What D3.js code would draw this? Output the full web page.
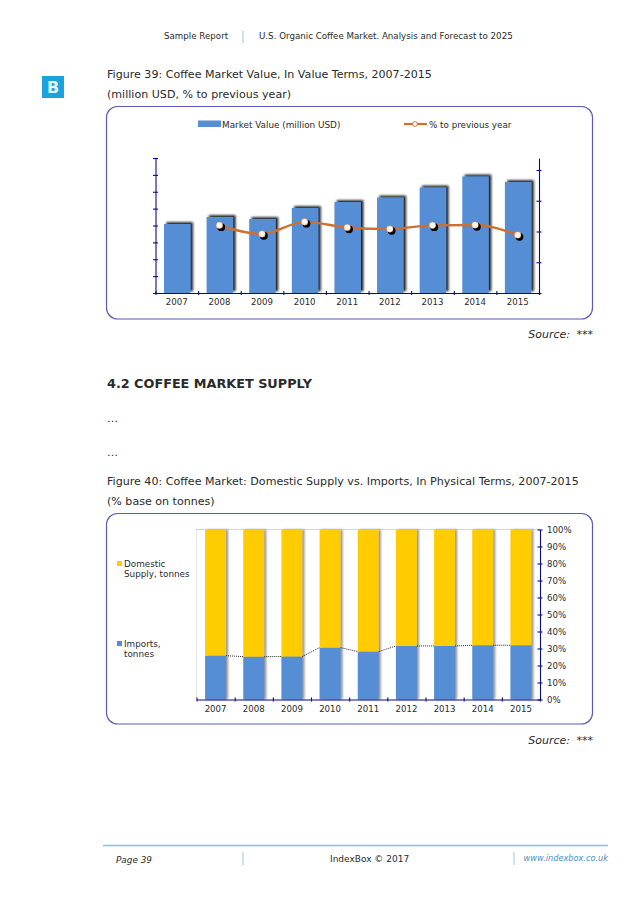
<!DOCTYPE html>
<html><head><meta charset="utf-8">
<script src="https://cdn.jsdelivr.net/npm/d3@7/dist/d3.min.js"></script>
<style>html,body{margin:0;padding:0;background:#fff}svg{display:block}text{font-family:"DejaVu Sans",Verdana,sans-serif;fill:#2a2a2a}</style>
</head><body><svg id="c" width="638" height="903"></svg>
<script>
const years = [2007,2008,2009,2010,2011,2012,2013,2014,2015];
const marketValue = [2044,2252,2193,2519,2696,2830,3126,3452,3289];
const pctPrevious = [null,110,96,115.6,106.5,104,110,110.6,94.3];
const imports = [25.8,25.2,25.3,30.5,28.2,31.5,31.5,31.9,31.9];
const domestic = [74.2,74.8,74.7,69.5,71.8,68.5,68.5,68.1,68.1];
const leftTicks = [0,500,1000,1500,2000,2500,3000,3500,4000];
const rightTicks = [0,50,100,150,200];
const pctTicks = [0,10,20,30,40,50,60,70,80,90,100];

const NAVY="#0a0a8c", BLUE="#558ed5", ORANGE="#cf6f30", YEL="#ffcc00", FRAME="#5a5ab8";
const svg=d3.select("#c");
const defs=svg.append("defs");
const f1=defs.append("filter").attr("id","sh1").attr("x","-20%").attr("y","-10%").attr("width","150%").attr("height","120%");
f1.append("feDropShadow").attr("dx",2.4).attr("dy",-1.8).attr("stdDeviation",1).attr("flood-color","#111").attr("flood-opacity",0.95);
const f2=defs.append("filter").attr("id","sh2").attr("x","-20%").attr("y","-10%").attr("width","150%").attr("height","120%");
f2.append("feDropShadow").attr("dx",2).attr("dy",0).attr("stdDeviation",0.9).attr("flood-color","#777").attr("flood-opacity",0.8);

function txt(x,y,s,size,o={}){
  const t=svg.append("text").attr("x",x).attr("y",y).attr("font-size",size).text(s);
  if(o.anchor)t.attr("text-anchor",o.anchor);
  if(o.bold)t.attr("font-weight","bold");
  if(o.italic)t.attr("font-style","italic");
  if(o.fill)t.style("fill",o.fill);
  if(o.ws)t.style("word-spacing",o.ws+"px");
  return t;
}
function sep(x,y1,y2){svg.append("line").attr("x1",x).attr("x2",x).attr("y1",y1).attr("y2",y2).attr("stroke","#bcdcec").attr("stroke-width",1.6);}

// page furniture
txt(164,39,"Sample Report",8.7);
sep(243,31,43);
txt(259,39,"U.S. Organic Coffee Market. Analysis and Forecast to 2025",8.7);
svg.append("rect").attr("x",42).attr("y",76).attr("width",22).attr("height",22).attr("fill","#1ba3dc");
txt(53,93,"B",16,{anchor:"middle",bold:true,fill:"#e8f6fc"});
txt(107,78,"Figure 39: Coffee Market Value, In Value Terms, 2007-2015",11.08);
txt(107,98,"(million USD, % to previous year)",11.08);
txt(593,338,"Source: ***",11,{anchor:"end",italic:true,ws:3});
txt(107,388,"4.2 COFFEE MARKET SUPPLY",12.8,{bold:true});
txt(107,422,"…",11);
txt(107,456,"…",11);
txt(107,485,"Figure 40: Coffee Market: Domestic Supply vs. Imports, In Physical Terms, 2007-2015",11.08);
txt(107,505,"(% base on tonnes)",11.08);
txt(593,744,"Source: ***",11,{anchor:"end",italic:true,ws:3});
svg.append("line").attr("x1",103).attr("x2",608).attr("y1",845.5).attr("y2",845.5).attr("stroke","#7cc4de").attr("stroke-width",1.4);
sep(243,852,865);sep(514,852,865);
txt(116,863,"Page 39",8.9,{italic:true});
txt(330,862,"IndexBox © 2017",9);
txt(608,861,"www.indexbox.co.uk",8.2,{anchor:"end",italic:true,fill:"#4a90c0"});

function frame(y,h){svg.append("rect").attr("x",106.5).attr("y",y).attr("width",486).attr("height",h).attr("rx",11).attr("fill","#fff").attr("stroke",FRAME).attr("stroke-width",1.2);}
function styleAxis(g){g.selectAll("path").attr("stroke",NAVY).attr("stroke-width",1.1);g.selectAll("line").attr("stroke",NAVY).attr("stroke-width",1.1);}
function crossTicks(g,h){g.selectAll(".tick line").attr("x1",-h).attr("x2",h).attr("y1",0).attr("y2",0);}
function crossTicksV(g,h){g.selectAll(".tick line").attr("y1",-h).attr("y2",h).attr("x1",0).attr("x2",0);}
function catAxes(x0,x1,yy,labelY){
  const band=d3.scaleBand().domain(years).range([x0,x1]);
  const edges=d3.scaleLinear().domain([0,years.length]).range([x0,x1]);
  const e=svg.append("g").attr("transform",`translate(0,${yy})`).call(d3.axisBottom(edges).tickValues(d3.range(0,years.length+1)).tickFormat("").tickSizeOuter(0));
  styleAxis(e);crossTicksV(e,2);
  const l=svg.append("g").attr("transform",`translate(0,${labelY})`).call(d3.axisBottom(band).tickSize(0));
  l.select("path").remove();
  l.selectAll("text").attr("font-size",8.6).attr("dy",0).attr("y",8).style("font-family",'"DejaVu Sans"').style("fill","#2a2a2a");
  return band;
}

// Figure 39
frame(106.5,212.5);
{
  const c=d3.scaleBand().domain(years).range([155.5,539]);
  const yL=d3.scaleLinear().domain([0,4000]).range([293,158]);
  const yR=d3.scaleLinear().domain([0,219.5]).range([293,158]);
  svg.append("g").selectAll("rect").data(years).join("rect")
    .attr("x",d=>c(d)+8.5).attr("width",26.5)
    .attr("y",(d,i)=>yL(marketValue[i])).attr("height",(d,i)=>293-yL(marketValue[i]))
    .attr("fill",BLUE).attr("filter","url(#sh1)");
  const a=svg.append("g").attr("transform","translate(155.5,0)").call(d3.axisLeft(yL).tickValues(leftTicks).tickFormat("").tickSizeOuter(0));
  styleAxis(a);crossTicks(a,2.5);
  const b=svg.append("g").attr("transform","translate(539,0)").call(d3.axisRight(yR).tickValues(rightTicks).tickFormat("").tickSizeOuter(0));
  styleAxis(b);crossTicks(b,2.5);
  catAxes(155.5,539,293,297);
  const pts=years.map((d,i)=>({x:c(d)+c.bandwidth()/2,y:yR(pctPrevious[i]),v:pctPrevious[i]})).filter(p=>p.v!=null);
  const line=d3.line().x(p=>p.x).y(p=>p.y).curve(d3.curveMonotoneX);
  svg.append("path").attr("d",line(pts)).attr("fill","none").attr("stroke",ORANGE).attr("stroke-width",2.4);
  svg.append("g").selectAll("circle").data(pts).join("circle").attr("cx",p=>p.x+1.8).attr("cy",p=>p.y+1.8).attr("r",3.9).attr("fill","#000");
  svg.append("g").selectAll("circle").data(pts).join("circle").attr("cx",p=>p.x).attr("cy",p=>p.y).attr("r",3.3).attr("fill","#fff6ea").attr("stroke",ORANGE).attr("stroke-width",0.4);
  // legend
  svg.append("rect").attr("x",198).attr("y",120.5).attr("width",23).attr("height",6.5).attr("fill",BLUE);
  txt(222,127.5,"Market Value (million USD)",8.85);
  svg.append("line").attr("x1",404).attr("x2",427).attr("y1",124).attr("y2",124).attr("stroke",ORANGE).attr("stroke-width",2.2);
  svg.append("circle").attr("cx",415).attr("cy",124).attr("r",2.4).attr("fill","#fff").attr("stroke",ORANGE).attr("stroke-width",0.9);
  txt(429,127.5,"% to previous year",8.75);
}

// Figure 40
frame(513.5,210.5);
{
  const x0=196.5,x1=540,top=529.5,bot=699.5;
  const c=d3.scaleBand().domain(years).range([x0,x1]);
  const y=d3.scaleLinear().domain([0,100]).range([bot,top]);
  const bw=21, off=(c.bandwidth()-bw)/2;
  svg.append("line").attr("x1",x0).attr("x2",x0).attr("y1",top).attr("y2",bot).attr("stroke","#e6e6e6");
  svg.append("line").attr("x1",x0).attr("x2",x1).attr("y1",top).attr("y2",top).attr("stroke","#999").attr("stroke-width",0.8).attr("stroke-dasharray","1 1");
  const bars=svg.append("g").attr("filter","url(#sh2)");
  bars.selectAll("rect.i").data(years).join("rect").attr("class","i")
    .attr("x",d=>c(d)+off).attr("width",bw)
    .attr("y",(d,i)=>y(imports[i])).attr("height",(d,i)=>bot-y(imports[i])).attr("fill",BLUE);
  bars.selectAll("rect.d").data(years).join("rect").attr("class","d")
    .attr("x",d=>c(d)+off).attr("width",bw)
    .attr("y",(d,i)=>y(imports[i]+domestic[i])).attr("height",(d,i)=>y(imports[i])-y(imports[i]+domestic[i])).attr("fill",YEL);
  svg.append("g").selectAll("line").data(years.slice(0,-1)).join("line")
    .attr("x1",d=>c(d)+off+bw).attr("x2",d=>c(d)+off+c.bandwidth())
    .attr("y1",(d,i)=>y(imports[i])).attr("y2",(d,i)=>y(imports[i+1]))
    .attr("stroke","#111").attr("stroke-width",0.9).attr("stroke-dasharray","1 1");
  const a=svg.append("g").attr("transform",`translate(${x1},0)`).call(d3.axisRight(y).tickValues(pctTicks).tickFormat(d=>d+"%").tickSizeOuter(0));
  styleAxis(a);crossTicks(a,2.5);
  a.selectAll("text").attr("x",7).attr("font-size",8.6).style("font-family",'"DejaVu Sans"').style("fill","#2a2a2a");
  catAxes(x0,x1,bot,704);
  svg.append("rect").attr("x",117).attr("y",561).attr("width",5).attr("height",5).attr("fill",YEL);
  txt(124,567,"Domestic",8.8);txt(124,577,"Supply, tonnes",8.8);
  svg.append("rect").attr("x",117).attr("y",641).attr("width",5).attr("height",5).attr("fill",BLUE);
  txt(124,647,"Imports,",8.8);txt(124,657,"tonnes",8.8);
}
</script></body></html>
